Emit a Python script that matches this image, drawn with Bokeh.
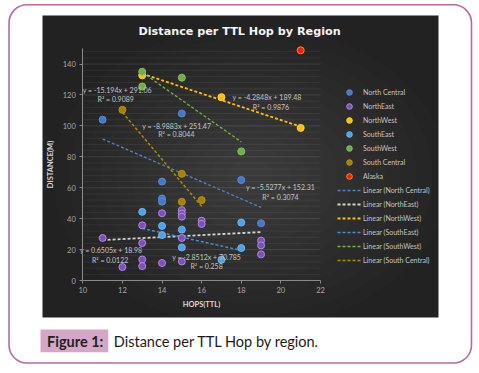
from bokeh.plotting import figure
from bokeh.models import LinearAxis, FixedTicker, Legend, LegendItem, Label, Range1d
from bokeh.core.properties import value
from bokeh.embed import file_html
from bokeh.resources import INLINE

# ---------------- data ----------------
X_TICKS = [10, 12, 14, 16, 18, 20, 22]
Y_TICKS = [0, 20, 40, 60, 80, 100, 120, 140]
Y_MAX = 150

series_names = ["North Central", "NorthEast", "NorthWest", "SouthEast",
                "SouthWest", "South Central", "Alaska"]

nc_x = [11, 15, 14, 18, 19, 14, 14]
nc_y = [104, 108, 64, 65, 37, 53, 51]
ne_x = [11, 12, 13, 13, 13, 13, 14, 14, 15, 15, 15, 15, 15, 16, 16, 19, 19, 19]
ne_y = [27.5, 8.7, 35.7, 24.2, 13.6, 9.3, 43.5, 11.3, 45.5, 43.3, 41.3, 27.5,
        12.3, 38.7, 36.6, 25.8, 22.7, 16.9]
nw_x = [13, 17, 21]
nw_y = [132.7, 118.6, 98.7]
se_x = [13, 14, 14, 15, 15, 17, 18, 18]
se_y = [44.4, 35.3, 29.4, 32.9, 21.4, 13.4, 21, 37.5]
sw_x = [13, 13, 15, 18]
sw_y = [135, 125.5, 131.2, 83.5]
sc_x = [12, 15, 15, 16]
sc_y = [110.4, 69, 50.9, 52]
ak_x = [21]
ak_y = [148.9]

# linear trend fits (as printed on the chart)
trend_slopes = [-5.5277, 0.6505, -4.2848, -2.8512, -8.9883, -15.194]
trend_intercepts = [152.31, 18.98, 189.48, 70.785, 251.47, 291.06]
trend_eq = ["y = -5.5277x + 152.31", "y = 0.6505x + 18.98", "y = -4.2848x + 189.48",
            "y = -2.8512x + 70.785", "y = -8.9883x + 251.47", "y = -15.194x + 291.06"]
trend_r2 = ["R² = 0.3074", "R² = 0.0122", "R² = 0.9876",
            "R² = 0.258", "R² = 0.8044", "R² = 0.9089"]
# label anchor (data coordinates) for each equation
eq_x = [19.98, 11.43, 19.3, 16.25, 14.74, 11.74]
eq_y = [60.2, 19.9, 118.4, 15.2, 100.2, 123.2]
r2_x = [19.98, 11.38, 19.5, 16.25, 14.72, 11.66]
r2_y = [54.3, 13.4, 112.5, 9.1, 94.8, 117.3]

# ---------------- geometry ----------------
W, H = 479, 373
SX = 19.808          # px per x unit
SY = 1.546           # px per y unit
FX10 = 82.3          # px of x = 10
FY0 = 280.0          # px of y = 0


def dx(fx):
    return 10 + (fx - FX10) / SX


def dy(fy):
    return (FY0 - fy) / SY


p = figure(width=W, height=H, output_backend="svg", toolbar_location=None,
           x_range=Range1d(dx(0), dx(W)), y_range=Range1d(dy(H), dy(0)),
           x_axis_type=None, y_axis_type=None, min_border=0,
           min_border_left=0, min_border_right=0, min_border_top=0, min_border_bottom=0)
p.outline_line_color = None
p.background_fill_color = "white"
p.border_fill_color = "white"

# outer rounded frame
p.quad(left=dx(8.5), right=dx(471), top=dy(4.3), bottom=dy(362.5),
       fill_color=None, line_color="#b8699e", line_width=1.6, border_radius=18)

# dark chart panel with a soft radial glow
PL, PR, PT, PB = 42, 438, 15, 317
p.quad(left=dx(PL), right=dx(PR), top=dy(PT), bottom=dy(PB),
       fill_color="#222222", line_color=None)
cx, cy = dx((PL + PR) / 2 + 10), dy((PT + PB) / 2 + 10)
for k in range(12):
    f = 1.0 - k * 0.08
    p.ellipse(x=cx, y=cy, width=(PR - PL) * f / SX, height=(PB - PT) * f / SY,
              fill_color="white", fill_alpha=0.011, line_color=None)

# grid lines
minor = [v for v in range(4, Y_MAX + 1, 4) if v not in Y_TICKS]
p.segment(x0=X_TICKS[0], x1=X_TICKS[-1], y0=minor, y1=minor,
          line_color="white", line_alpha=0.06, line_width=1)
p.segment(x0=X_TICKS[0], x1=X_TICKS[-1], y0=Y_TICKS[1:], y1=Y_TICKS[1:],
          line_color="white", line_alpha=0.11, line_width=1)

# axes
FONT = "Lato"
yax = LinearAxis(fixed_location=X_TICKS[0], bounds=(0, Y_MAX),
                 ticker=FixedTicker(ticks=Y_TICKS), axis_label="DISTANCE(M)")
xax = LinearAxis(fixed_location=0, bounds=(X_TICKS[0], X_TICKS[-1]),
                 ticker=FixedTicker(ticks=X_TICKS), axis_label="HOPS(TTL)")
for ax in (yax, xax):
    ax.axis_line_color = "#8a8a8a"
    ax.major_tick_line_color = "#8a8a8a"
    ax.major_tick_out = 3
    ax.major_tick_in = 0
    ax.minor_tick_line_color = None
    ax.major_label_text_font = FONT
    ax.major_label_text_font_size = "7.5px"
    ax.major_label_text_color = "#a8a8a8"
    ax.axis_label_text_font = FONT
    ax.axis_label_text_font_style = "bold"
    ax.axis_label_text_font_size = "7.5px"
    ax.axis_label_text_color = "#d8d8d8"
yax.major_label_standoff = 4
yax.axis_label_standoff = 4
xax.major_label_standoff = 3
xax.axis_label_standoff = 4
p.add_layout(yax, "left")
p.add_layout(xax, "below")

# trend lines
series_x = [nc_x, ne_x, nw_x, se_x, sw_x, sc_x]
trend_colors = ["#4f81c8", "#d4d4d4", "#ffc000", "#4a8fd8", "#72b548", "#b08d10"]
trend_widths = [1.3, 1.8, 1.8, 1.4, 1.3, 1.4]
trend_r = []
for xs, m, b, c, w in zip(series_x, trend_slopes, trend_intercepts, trend_colors, trend_widths):
    x0, x1 = min(xs), max(xs)
    r = p.line(x=[x0, x1], y=[m * x0 + b, m * x1 + b], line_color=c,
               line_width=w, line_dash="3 2")
    trend_r.append(r)

# scatter points
pts = [(nc_x, nc_y, "#4677c8", "#5a8ad8"),
       (ne_x, ne_y, "#7d4fb8", "#b08ae0"),
       (nw_x, nw_y, "#ffc000", "#ffd040"),
       (se_x, se_y, "#4ea3e6", "#6ab4ee"),
       (sw_x, sw_y, "#6fae45", "#85c25a"),
       (sc_x, sc_y, "#a67f05", "#b8920f"),
       (ak_x, ak_y, "#ff1a00", "#ff8c1a")]
scat_r = []
for xs, ys, fc, lc in pts:
    r = p.scatter(x=xs, y=ys, size=7, fill_color=fc, line_color=lc, line_width=1)
    scat_r.append(r)

# equation labels
TXT = dict(text_font=value(FONT), text_font_size="7px", text_color="#c4c4c4",
           text_align="center", text_baseline="middle")
p.text(x=eq_x, y=eq_y, text=trend_eq, **TXT)
p.text(x=r2_x, y=r2_y, text=trend_r2, **TXT)

# legend
items = [LegendItem(label=n, renderers=[r]) for n, r in zip(series_names, scat_r)]
items += [LegendItem(label="Linear (%s)" % n, renderers=[r])
          for n, r in zip(series_names[:6], trend_r)]
leg = Legend(items=items, location=(337, H - 267), glyph_width=24, glyph_height=14,
             label_height=14, spacing=0, padding=0, margin=0, label_standoff=2,
             label_text_font=FONT, label_text_font_size="7px",
             label_text_color="#c4c4c4", background_fill_alpha=0,
             border_line_alpha=0)
p.add_layout(leg)

# chart title
p.add_layout(Label(x=dx(138), y=dy(30.7), text="Distance per TTL Hop by Region",
                   text_font="DejaVu Sans", text_font_style="bold",
                   text_font_size="11.2px", text_color="#f4f4f4",
                   text_baseline="middle"))

# figure caption
p.quad(left=dx(40), right=dx(107.7), top=dy(329), bottom=dy(351.7),
       fill_color="#d5a7c6", line_color=None)
p.add_layout(Label(x=dx(46.5), y=dy(340.7), text="Figure 1:", text_font=FONT,
                   text_font_style="bold", text_font_size="14.5px",
                   text_color="#222222", text_baseline="middle"))
p.add_layout(Label(x=dx(113.3), y=dy(340.7), text="Distance per TTL Hop by region.",
                   text_font=FONT, text_font_size="14.5px",
                   text_color="#1a1a1a", text_baseline="middle"))

open("out.html", "w").write(file_html(p, INLINE))
